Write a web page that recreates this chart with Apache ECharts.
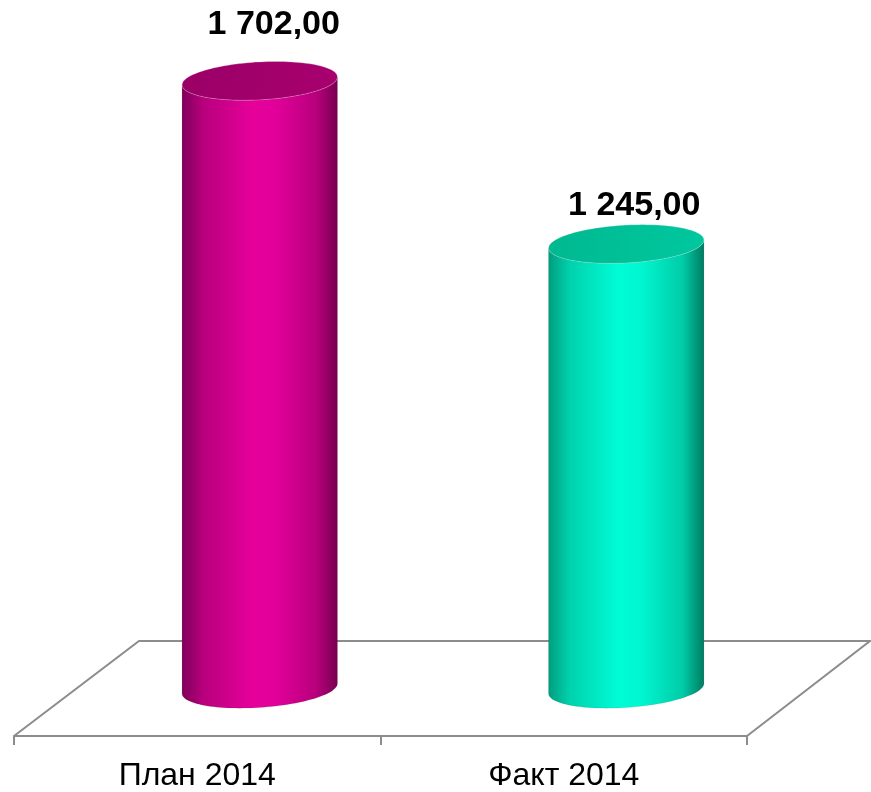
<!DOCTYPE html>
<html>
<head>
<meta charset="utf-8">
<script src="https://cdn.jsdelivr.net/npm/echarts@6/dist/echarts.min.js"></script>
<style>html,body{margin:0;padding:0;background:#fff}#c{width:871px;height:792px}</style>
</head>
<body>
<div id="c"></div>
<script>
var categories = ['План 2014', 'Факт 2014'];
var values = [1702, 1245];
var labels = ['1 702,00', '1 245,00'];

var bodyColors = [
  ['#7e0058', '#b8007d', '#e6009a', '#e2009a', '#b8007c', '#760050'],
  ['#009c7e', '#00d2ad', '#00fcd6', '#00f6d0', '#00cca8', '#007a60']
];
var topColors = [['#9a0066', '#a8006f'], ['#00b890', '#00c89f']];
var labelNudge = [[14, -56], [8, -38]];

var DEPTH_X = 125, DEPTH_Y = 95;

function ellipsePts(cx, cy, a, b, k, t0, t1, n) {
  var pts = [];
  for (var i = 0; i <= n; i++) {
    var t = t0 + (t1 - t0) * i / n;
    pts.push([cx + a * Math.cos(t), cy + b * Math.sin(t) + k * a * Math.cos(t)]);
  }
  return pts;
}

var chart = echarts.init(document.getElementById('c'));
chart.setOption({
  animation: false,
  grid: { left: 14, right: 124, top: 22, bottom: 56 },
  xAxis: {
    type: 'category',
    data: categories,
    boundaryGap: true,
    axisLine: { lineStyle: { color: '#8c8c8c', width: 2 } },
    axisTick: { show: true, length: 9, lineStyle: { color: '#8c8c8c', width: 2 } },
    axisLabel: { fontSize: 32, color: '#000', margin: 24, fontFamily: 'Liberation Sans, Arial, sans-serif' }
  },
  yAxis: { type: 'value', min: 0, max: 2000, show: false, splitLine: { show: false } },
  series: [
    {
      type: 'custom',
      data: [[0, 0]],
      z: 1,
      renderItem: function (params, api) {
        var cs = params.coordSys;
        var x0 = cs.x, x1 = cs.x + cs.width, y = cs.y + cs.height;
        return {
          type: 'polyline',
          shape: { points: [[x0, y], [x0 + DEPTH_X, y - DEPTH_Y], [x1 + DEPTH_X - 2, y - DEPTH_Y], [x1, y]] },
          style: { stroke: '#8c8c8c', lineWidth: 2, fill: null }
        };
      }
    },
    {
      type: 'custom',
      data: values.map(function (v, i) { return [i, v]; }),
      encode: { x: 0, y: 1 },
      z: 2,
      renderItem: function (params, api) {
        var i = params.dataIndex;
        var base = api.coord([api.value(0), 0]);
        var top = api.coord([api.value(0), api.value(1)]);
        var band = api.size([1, 0])[0];
        var a = band * 0.212;
        var b = 19;
        var kTop = -4 / a, kBot = -5 / a;
        var cx = base[0] + DEPTH_X / 2;
        var cyB = base[1] - DEPTH_Y / 2;
        var cyT = top[1] - DEPTH_Y / 2;
        var front = ellipsePts(cx, cyB, a, b, kBot, Math.PI, 0, 60);
        var topFront = ellipsePts(cx, cyT, a, b, kTop, 0, Math.PI, 60);
        var bodyPts = front.concat(topFront);
        var bc = bodyColors[i];
        var stops = bc.map(function (c, j) { return { offset: [0, 0.14, 0.45, 0.6, 0.86, 1][j], color: c }; });
        var topPts = ellipsePts(cx, cyT, a, b, kTop, 0, Math.PI * 2, 120);
        var tc = topColors[i];
        return {
          type: 'group',
          children: [
            {
              type: 'polygon',
              shape: { points: bodyPts },
              style: { fill: new echarts.graphic.LinearGradient(0, 0, 1, 0, stops), stroke: 'rgba(0,0,0,0.08)', lineWidth: 1 }
            },
            {
              type: 'polygon',
              shape: { points: topPts },
              style: { fill: new echarts.graphic.LinearGradient(0, 0, 1, 1, [{ offset: 0, color: tc[0] }, { offset: 1, color: tc[1] }]), stroke: 'rgba(255,255,255,0.25)', lineWidth: 1 }
            },
            {
              type: 'text',
              x: cx + labelNudge[i][0],
              y: cyT + labelNudge[i][1],
              style: {
                text: labels[i],
                font: 'bold 34px "Liberation Sans", Arial, sans-serif',
                fill: '#000',
                align: 'center',
                verticalAlign: 'middle'
              }
            }
          ]
        };
      }
    }
  ]
});
</script>
</body>
</html>
